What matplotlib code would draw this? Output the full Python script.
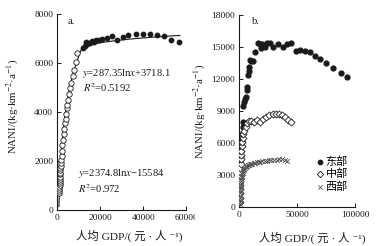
import numpy as np
import matplotlib
matplotlib.use('Agg')
import matplotlib.pyplot as plt
import matplotlib.patches as patches

plt.rcParams['font.family'] = ['Liberation Serif', 'DejaVu Serif', 'Noto Sans CJK SC']
plt.rcParams['mathtext.fontset'] = 'stix'
plt.rcParams['axes.unicode_minus'] = True

# ---- panel a: whole country ----
open_x = [800, 900, 950, 1000, 1050, 1100, 1150, 1200, 1250, 1300, 1350, 1400, 1450, 1500,
          1600, 1800, 2000, 2200, 2400, 2700, 3000, 3200, 3500, 3900, 4100, 4400, 4700,
          5100, 5500, 6000, 6600, 7200, 7800, 8500, 9300]
open_y = [700, 780, 860, 950, 1030, 1110, 1190, 1280, 1360, 1450, 1530, 1620, 1700, 1800,
          1900, 2050, 2200, 2400, 2650, 2850, 3100, 3300, 3550, 3700, 3900, 4150, 4300,
          4500, 4750, 5000, 5200, 5450, 5700, 6050, 6400]
filled_x = [12000, 12800, 13300, 13800, 14500, 15200, 16000, 17000, 18200, 19500, 21000,
            23000, 25500, 28000, 30500, 33000, 36500, 40000, 43000, 46500, 49500, 53000, 56500]
filled_y = [6620, 6700, 6850, 6760, 6830, 6800, 6880, 6850, 6920, 6950, 6980,
            7030, 7120, 6930, 7050, 7150, 7170, 7200, 7190, 7130, 7100, 6950, 6850]
# fit lines y = a*ln(x) + b, drawn between x0 and x1
low_fit = (2374.8, -15584, 750, 11500)
high_fit = (287.35, 3980, 11500, 57000)

# ---- panel b: regions ----
east_x = [1000, 1300, 1600, 1900, 2200, 2500, 2800, 3200, 3500, 4300, 4900, 5800, 6400, 6700,
          7800, 8300, 8600, 9200, 10100, 12100, 13600, 15900, 17500, 18700, 20000, 20700,
          22200, 24200, 26500, 29400, 33700, 37500, 41000, 44700, 49000, 52400, 56800,
          61100, 65400, 69700, 74900, 81200, 87600, 92800]
east_y = [4300, 4800, 5300, 5800, 6300, 6900, 7500, 8010, 9500, 9900, 10150, 10350, 11000, 11250,
          12380, 12780, 13160, 13790, 13690, 13690, 14500, 15350, 15300, 14950, 15250, 15200,
          15050, 15340, 15340, 15030, 15280, 14970, 15250, 15340, 14650, 14720, 14650,
          14500, 14160, 13850, 13470, 13000, 12590, 12220]
mid_x = [200, 300, 400, 500, 600, 700, 800, 900, 1000, 1200, 1400, 1600, 1900, 2200, 2600,
         3000, 3500, 4300, 5500, 6900, 8300, 10000, 12500, 15000, 17800, 20300, 23000,
         25900, 28800, 31500, 34200, 36800, 39400, 42000, 44700]
mid_y = [500, 900, 1300, 1700, 2100, 2500, 2900, 3300, 3700, 4100, 4500, 4900, 5300, 5700, 6100,
         6500, 6900, 7100, 7500, 7900, 8100, 8050, 7950, 8150, 8000, 8250, 8450,
         8620, 8700, 8730, 8720, 8630, 8450, 8180, 7950]
west_x = [200, 300, 400, 500, 600, 700, 800, 900, 1000, 1200, 1400, 1600, 1800, 2000, 2300,
          2600, 3000, 3400, 3800, 4300, 4800, 5400, 6000, 6700, 7500, 8300, 9200, 10200,
          11300, 12500, 13800, 15200, 16700, 18300, 20000, 21800, 23700, 25700, 27800,
          30000, 32200, 34500, 36800, 39200, 41500]
west_y = [300, 500, 700, 900, 1100, 1300, 1500, 1700, 1900, 2100, 2300, 2500, 2650, 2800, 2950,
          3100, 3250, 3400, 3500, 3600, 3700, 3750, 3850, 3900, 3950, 4000, 4050, 4100,
          4100, 4150, 4150, 4200, 4250, 4250, 4300, 4300, 4350, 4400, 4400, 4450,
          4450, 4500, 4500, 4450, 4350]
legend_labels = ['东部', '中部', '西部']

ylabel = 'NANI/(kg·km$^{-2}$·a$^{-1}$)'
xlabel = '人均 GDP/( 元 · 人 \u207b\u00b9)'
ink = '#1a1a1a'

fig = plt.figure(figsize=(3.83, 2.46), dpi=100)
ax1 = fig.add_axes([0.1496, 0.1463, 0.3368, 0.7967])
ax2 = fig.add_axes([0.6248, 0.1573, 0.3021, 0.7817])


def style(ax):
    for key in ['top', 'right']:
        ax.spines[key].set_visible(False)
    for key in ['left', 'bottom']:
        ax.spines[key].set_linewidth(0.8)
        ax.spines[key].set_color(ink)
    ax.tick_params(direction='in', length=3, width=0.7, labelsize=6.8, pad=3,
                   colors=ink)
    ax.set_facecolor('none')


# panel a
style(ax1)
ax1.set_xlim(0, 60000)
ax1.set_ylim(0, 8000)
ax1.set_xticks([0, 20000, 40000, 60000])
ax1.set_yticks(np.arange(0, 8001, 2000))
for a, b, x0, x1 in [low_fit, high_fit]:
    xs = np.linspace(x0, x1, 200)
    ax1.plot(xs, a * np.log(xs) + b, color=ink, lw=0.8, zorder=2)
ax1.scatter(open_x, open_y, s=15, facecolors='white', edgecolors=ink, linewidths=0.6, zorder=3)
ax1.scatter(filled_x, filled_y, s=10, color=ink, zorder=3)
tkw = dict(fontsize=7.6, color=ink, va='center', ha='left')
ax1.text(4600, 7680, 'a.', **tkw)
ax1.text(11500, 5590, '$y$=287.35ln$x$+3718.1', **tkw)
ax1.text(12000, 5000, '$R^2$=0.5192', **tkw)
ax1.text(9600, 1510, '$y$=2374.8ln$x$\u221215584', **tkw)
ax1.text(9600, 880, '$R^2$=0.972', **tkw)
ax1.set_ylabel(ylabel, fontsize=7.8, color=ink)
ax1.yaxis.set_label_coords(-0.29, 0.53)
ax1.set_xlabel(xlabel, fontsize=8.2, color=ink)
ax1.xaxis.set_label_coords(0.56, -0.10)

# panel b
style(ax2)
ax2.set_zorder(3)
ax2.set_xlim(0, 100000)
ax2.set_ylim(0, 18000)
ax2.set_xticks([0, 50000, 100000])
ax2.set_yticks(np.arange(0, 18001, 3000))
ax2.scatter(east_x, east_y, s=12, color=ink, zorder=3, label=legend_labels[0])
ax2.scatter(mid_x, mid_y, s=13, marker='D', facecolors='white', edgecolors=ink,
            linewidths=0.6, zorder=3, label=legend_labels[1])
ax2.scatter(west_x, west_y, s=12, marker='x', color='#555555', linewidths=0.6,
            zorder=3, label=legend_labels[2])
ax2.text(10700, 17400, 'b.', **tkw)
ax2.set_ylabel(ylabel, fontsize=7.8, color=ink)
ax2.yaxis.set_label_coords(-0.28, 0.5)
ax2.set_xlabel(xlabel, fontsize=8.2, color=ink)
ax2.xaxis.set_label_coords(0.63, -0.128)
ax2.legend(loc='upper left', bbox_to_anchor=(0.66, 0.265), frameon=False,
           fontsize=8, handlelength=0.7, handletextpad=0.2, labelspacing=0.15,
           borderpad=0, borderaxespad=0, markerscale=0.9)

# the two panels were cut and pasted side by side
fig.patches.append(patches.Rectangle((195 / 383, 0), 44 / 383, 1, transform=fig.transFigure,
                                     facecolor='white', edgecolor='none', zorder=1))

fig.savefig('out.png', dpi=100)
